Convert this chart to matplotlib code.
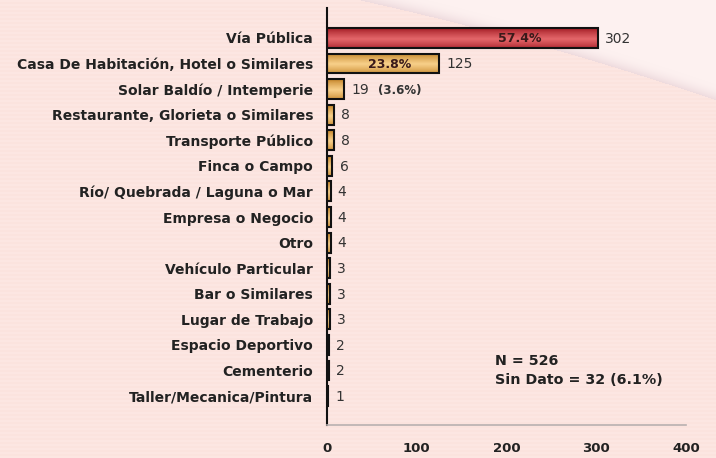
import numpy as np
import matplotlib
matplotlib.use("Agg")
import matplotlib.pyplot as plt
from matplotlib.colors import to_rgb

categories = [
    "Vía Pública",
    "Casa De Habitación, Hotel o Similares",
    "Solar Baldío / Intemperie",
    "Restaurante, Glorieta o Similares",
    "Transporte Público",
    "Finca o Campo",
    "Río/ Quebrada / Laguna o Mar",
    "Empresa o Negocio",
    "Otro",
    "Vehículo Particular",
    "Bar o Similares",
    "Lugar de Trabajo",
    "Espacio Deportivo",
    "Cementerio",
    "Taller/Mecanica/Pintura",
]
values = [302, 125, 19, 8, 8, 6, 4, 4, 4, 3, 3, 3, 2, 2, 1]
pct_inside = {0: "57.4%", 1: "23.8%"}
pct_outside = {2: "(3.6%)"}
xticks = [0, 100, 200, 300, 400]
note_lines = ["N = 526", "Sin Dato = 32 (6.1%)"]

W, H = 716, 458
fig = plt.figure(figsize=(W / 100, H / 100), dpi=100)

# background: faint striped pink with a lighter "page curl" top right
bg = fig.add_axes([0, 0, 1, 1], zorder=0)
yy, xx = np.mgrid[0:H, 0:W]
base = np.array(to_rgb("#fbe3de"))
light = np.array(to_rgb("#fdf1f0"))
img = np.ones((H, W, 3)) * base
stripe = (yy % 4) < 2
img[stripe] = img[stripe] * 0.5 + np.array(to_rgb("#fdebe7")) * 0.5
cx = np.array([360, 550, 716])
cy = np.array([0, 48, 100])
coef = np.polyfit(cx, cy, 2)
curve_y = np.polyval(coef, xx)
above = (yy < curve_y) & (xx > 355)
img[above] = light
dist = curve_y - yy
shade = above & (dist < 16)
w = (1 - dist[shade] / 16.0)[:, None] ** 2
img[shade] = light * (1 - 0.45 * w) + np.array(to_rgb("#dcc0c8")) * 0.45 * w
bg.imshow(img, extent=(0, W, H, 0), aspect="auto")
bg.set_xlim(0, W)
bg.set_ylim(H, 0)
bg.axis("off")

ax = fig.add_axes([327 / W, 1 - 425 / H, (686 - 327) / W, (425 - 8) / H], zorder=1)
ax.patch.set_alpha(0)

n = len(values)
h = 0.78
ypos = np.arange(n)


def grad(c_dark, c_light):
    d = np.array(to_rgb(c_dark))
    l = np.array(to_rgb(c_light))
    t = np.linspace(-1, 1, 32)
    k = np.clip(1 - np.abs(t - 0.1), 0, 1) ** 0.8
    k = k[:, None]
    return (d * (1 - k) + l * k)[:, None, :]


red = grad("#a8222a", "#e4666a")
gold = grad("#c88a30", "#f8d08a")
for i, v in enumerate(values):
    g = red if i == 0 else gold
    ax.imshow(g, extent=(0, v, i + h / 2, i - h / 2), aspect="auto",
              interpolation="bilinear", zorder=2)
    ax.barh(i, v, height=h, facecolor="none", edgecolor="#111111",
            linewidth=1.5, zorder=3)
    ax.text(v + 8, i + 0.03, str(v), va="center", ha="left", fontsize=10,
            color="#333333", zorder=4)

pct_frac = {0: 0.71, 1: 0.56}
for i, s in pct_inside.items():
    ax.text(values[i] * pct_frac[i], i + 0.04, s, va="center", ha="center",
            fontsize=9, fontweight="bold", color="#3a1a1a", zorder=4)
for i, s in pct_outside.items():
    ax.text(values[i] + 38, i + 0.04, s, va="center", ha="left",
            fontsize=8.5, fontweight="bold", color="#333333", zorder=4)

ax.set_xlim(0, 400)
ax.set_ylim(n - 1 + 1.13, -1.17)
ax.set_yticks(ypos)
ax.set_yticklabels(categories, fontsize=10, fontweight="bold", color="#222222")
ax.set_xticks(xticks)
ax.set_xticklabels([str(t) for t in xticks], fontsize=9.5, fontweight="bold",
                   color="#222222")
ax.tick_params(axis="both", length=0)
ax.tick_params(axis="y", pad=10)
ax.tick_params(axis="x", pad=12)
for s in ["top", "right"]:
    ax.spines[s].set_visible(False)
ax.spines["left"].set_color("#111111")
ax.spines["left"].set_linewidth(1.5)
ax.spines["bottom"].set_color("#b8b0b0")
ax.spines["bottom"].set_linewidth(1.2)

fig.text(495 / W, 1 - 361 / H, note_lines[0], fontsize=10.3, fontweight="bold",
         color="#222222", va="center", ha="left", zorder=5)
fig.text(495 / W, 1 - 380 / H, note_lines[1], fontsize=10.3, fontweight="bold",
         color="#222222", va="center", ha="left", zorder=5)

fig.savefig("out.png", dpi=100)
